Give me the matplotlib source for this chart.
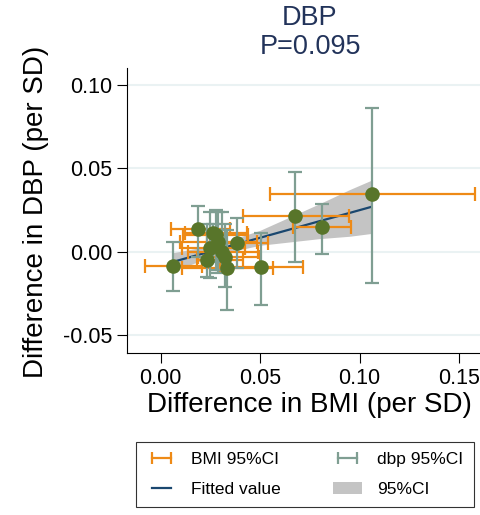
import numpy as np
import matplotlib
matplotlib.use("Agg")
from matplotlib import pyplot as plt
from matplotlib.lines import Line2D
from matplotlib.patches import Patch

plt.rcParams['font.family'] = ['Liberation Sans', 'DejaVu Sans']

# per-SNP estimates: difference in BMI and DBP (per SD) with 95% CIs
bmi    = [0.0064, 0.0189, 0.0248, 0.0265, 0.0278, 0.0290, 0.0307, 0.0323, 0.0332, 0.0382, 0.0231, 0.0503, 0.0676, 0.0810, 0.1061]
bmi_lo = [-0.0079, 0.0050, 0.0106, 0.0122, 0.0114, 0.0097, 0.0139, 0.0189, 0.0106, 0.0231, 0.0180, 0.0299, 0.0416, 0.0667, 0.0550]
bmi_hi = [0.0209, 0.0349, 0.0424, 0.0432, 0.0441, 0.0483, 0.0491, 0.0500, 0.0566, 0.0540, 0.0416, 0.0717, 0.0947, 0.0957, 0.1580]

dbp    = [-0.0084, 0.0136, 0.0020, 0.0110, 0.0100, 0.0060, 0.0000, -0.0030, -0.0100, 0.0054, -0.0050, -0.0090, 0.0216, 0.0150, 0.0346]
dbp_lo = [-0.0238, -0.0030, -0.0160, -0.0060, -0.0110, -0.0130, -0.0110, -0.0210, -0.0350, -0.0100, -0.0150, -0.0320, -0.0060, -0.0012, -0.0190]
dbp_hi = [0.0056, 0.0274, 0.0240, 0.0165, 0.0251, 0.0240, 0.0236, 0.0165, 0.0130, 0.0204, 0.0168, 0.0110, 0.0477, 0.0286, 0.0864]

# fitted line and its 95% band
fit_x  = [0.0064, 0.0200, 0.0350, 0.0500, 0.0650, 0.0800, 0.0950, 0.1061]
fit_y  = [-0.0060, -0.0015, 0.0035, 0.0084, 0.0134, 0.0184, 0.0233, 0.0270]
fit_lo = [-0.0115, -0.0055, 0.0000, 0.0039, 0.0059, 0.0079, 0.0093, 0.0110]
fit_hi = [-0.0005, 0.0025, 0.0070, 0.0129, 0.0209, 0.0289, 0.0373, 0.0430]

xticks = [0.00, 0.05, 0.10, 0.15]
yticks = [-0.05, 0.00, 0.05, 0.10]

orange = '#ee8a16'
sage = '#7f9e92'
olive = '#58752a'
navy = '#1a476f'
band = '#c4c4c4'

bmi = np.array(bmi); dbp = np.array(dbp)
xerr = [bmi - np.array(bmi_lo), np.array(bmi_hi) - bmi]
yerr = [dbp - np.array(dbp_lo), np.array(dbp_hi) - dbp]

fig = plt.figure(figsize=(4.81, 5.15), dpi=100)
ax = fig.add_axes([0.2647, 0.3151, 0.7353, 0.5529])

ax.fill_between(fit_x, fit_lo, fit_hi, color=band, lw=0, zorder=1)
ax.plot(fit_x, fit_y, color=navy, lw=1.6, zorder=2)
ax.errorbar(bmi, dbp, xerr=xerr, fmt='none', ecolor=orange, elinewidth=1.6,
            capsize=4.8, capthick=1.6, zorder=3)
ax.errorbar(bmi, dbp, yerr=yerr, fmt='none', ecolor=sage, elinewidth=1.6,
            capsize=5, capthick=1.6, zorder=4)
ax.plot(bmi, dbp, 'o', color=olive, ms=10.5, mec='none', zorder=5)

ax.set_xlim(-0.0168, 0.1611)
ax.set_ylim(-0.0606, 0.1103)
ax.set_xticks(xticks)
ax.set_xticklabels(['%.2f' % t for t in xticks])
ax.set_yticks(yticks)
ax.set_yticklabels(['%.2f' % t for t in yticks])
ax.tick_params(direction='out', length=7, width=0.8, labelsize=15.5, pad=4)
ax.yaxis.grid(True, color='#eaf2f3', lw=1.5)
ax.set_axisbelow(True)
for s in ['top', 'right']:
    ax.spines[s].set_visible(False)
for s in ['left', 'bottom']:
    ax.spines[s].set_linewidth(0.8)

fig.text(309/481, 1 - 405/515, 'Difference in BMI (per SD)', fontsize=20,
         ha='center', va='center')
fig.text(36/481, 1 - 212/515, 'Difference in DBP (per SD)', fontsize=20,
         ha='center', va='center', rotation=90)
fig.text(310/481, 1 - 18/515, 'DBP', fontsize=19.5, color='#22335a',
         ha='center', va='center')
fig.text(310/481, 1 - 47/515, 'P=0.095', fontsize=19.5, color='#22335a',
         ha='center', va='center')

handles = [
    Line2D([], [], color=orange, lw=1.6, marker='|', ms=9, mew=1.6),
    Line2D([], [], color=navy, lw=1.6),
    Line2D([], [], color=sage, lw=1.6, marker='|', ms=9, mew=1.6),
    Patch(facecolor=band, edgecolor='none'),
]
labels = ['BMI 95%CI', 'Fitted value', 'dbp 95%CI', '95%CI']
leg = fig.legend(handles, labels, ncol=2, numpoints=2, fontsize=12.5,
                 loc='center', bbox_to_anchor=(305/481, 1 - 474.5/515),
                 frameon=True, fancybox=False, edgecolor='black',
                 handlelength=1.7, handletextpad=0.85, columnspacing=3.0,
                 borderpad=0.6, labelspacing=0.85)
leg.get_frame().set_linewidth(0.8)

fig.savefig('out.png', dpi=100)
